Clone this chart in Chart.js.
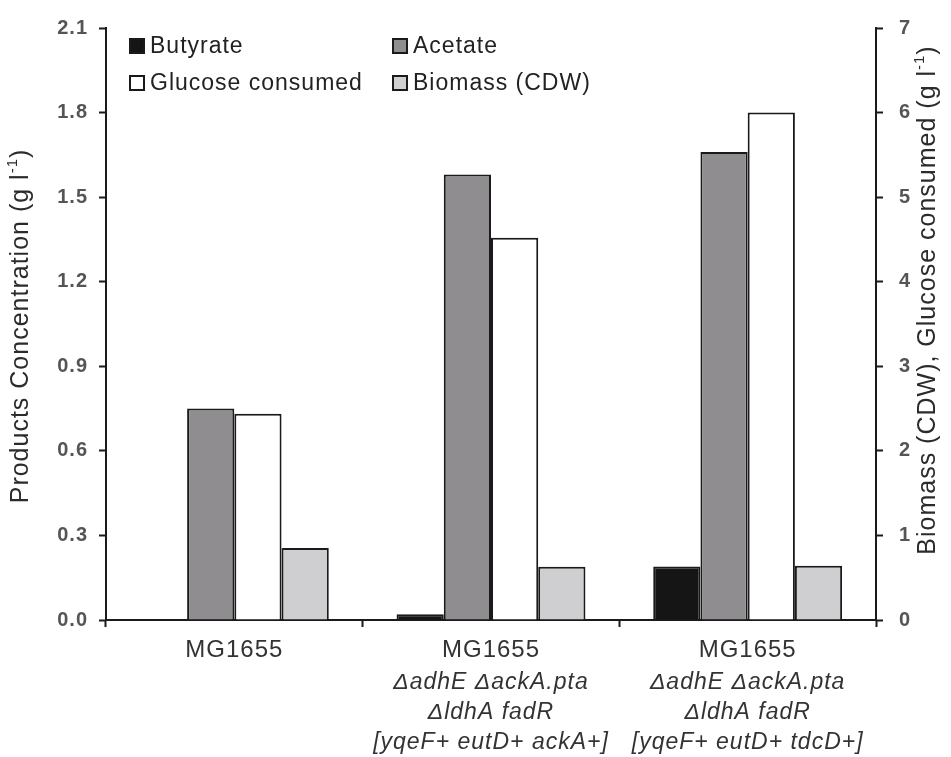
<!DOCTYPE html>
<html>
<head>
<meta charset="utf-8">
<script src="https://cdn.jsdelivr.net/npm/chart.js@4/dist/chart.umd.min.js"></script>
<style>
  html, body { margin: 0; padding: 0; background: #ffffff; }
  #c { display: block; }
</style>
</head>
<body>
<canvas id="c" width="951" height="757"></canvas>
<script>
// Strain names (first label line) and genotype lines under them
const strains = ['MG1655', 'MG1655', 'MG1655'];
const genotypes = [
  '',
  ['ΔadhE ΔackA.pta', 'ΔldhA fadR', '[yqeF+ eutD+ ackA+]'],
  ['ΔadhE ΔackA.pta', 'ΔldhA fadR', '[yqeF+ eutD+ tdcD+]']
];

// Products (g/l, left axis)
const butyrate = [0, 0.02, 0.19];
const acetate = [0.75, 1.58, 1.66];
// Biomass and glucose consumed (g/l, right axis)
const glucoseConsumed = [2.44, 4.52, 6.0];
const biomass = [0.85, 0.63, 0.64];

// Axis tick values
const productTicks = [0, 0.3, 0.6, 0.9, 1.2, 1.5, 1.8, 2.1];
const biomassTicks = [0, 1, 2, 3, 4, 5, 6, 7];

const FAMILY = '"Liberation Sans", Arial, Helvetica, sans-serif';
const INK = '#1a1a1a';

function spacing(chart) { chart.ctx.letterSpacing = '1px'; }

// Draws a rotated (bottom-to-top) axis title with a superscript "-1"
function drawAxisTitle(ctx, cx, cy, main, sup, tail) {
  const big = '25px ' + FAMILY;
  const small = '15px ' + FAMILY;
  ctx.save();
  ctx.letterSpacing = '1px';
  ctx.fillStyle = '#2b2b2b';
  ctx.textBaseline = 'middle';
  ctx.textAlign = 'left';
  ctx.font = big;
  const w1 = ctx.measureText(main).width;
  const w3 = ctx.measureText(tail).width;
  ctx.font = small;
  const w2 = ctx.measureText(sup).width;
  const total = w1 + w2 + w3;
  ctx.translate(cx, cy);
  ctx.rotate(-Math.PI / 2);
  let x = -total / 2;
  ctx.font = big;
  ctx.fillText(main, x, 0);
  x += w1;
  ctx.font = small;
  ctx.fillText(sup, x, -8);
  x += w2;
  ctx.font = big;
  ctx.fillText(tail, x, 0);
  ctx.restore();
}

const decorations = {
  id: 'decorations',
  beforeLayout: spacing,
  beforeDraw: spacing,
  afterDraw(chart) {
    const ctx = chart.ctx;
    const area = chart.chartArea;

    // Legend in two columns inside the plot area
    const cols = [24, 287];
    const rows = [18, 55];
    const order = [[0, 0, 0], [1, 1, 0], [2, 0, 1], [3, 1, 1]];
    ctx.save();
    ctx.letterSpacing = '1px';
    ctx.font = '23px ' + FAMILY;
    ctx.textBaseline = 'middle';
    ctx.textAlign = 'left';
    order.forEach(([di, c, r]) => {
      const ds = chart.data.datasets[di];
      const bx = area.left + cols[c];
      const by = area.top + rows[r];
      ctx.fillStyle = ds.backgroundColor;
      ctx.fillRect(bx, by - 7, 14, 14);
      ctx.lineWidth = 2;
      ctx.strokeStyle = INK;
      ctx.strokeRect(bx, by - 7, 14, 14);
      ctx.fillStyle = '#222222';
      ctx.fillText(ds.label, bx + 20, by + 1);
    });
    ctx.restore();

    // Axis titles
    drawAxisTitle(ctx, 21, 326, 'Products Concentration (g l', '-1', ')');
    drawAxisTitle(ctx, 928, 300, 'Biomass (CDW), Glucose consumed (g l', '-1', ')');
  }
};

const axisGrid = {
  drawOnChartArea: false,
  drawTicks: true,
  tickLength: 7,
  tickWidth: 2,
  tickColor: INK
};

new Chart(document.getElementById('c'), {
  type: 'bar',
  data: {
    labels: strains,
    datasets: [
      { label: 'Butyrate', data: butyrate, yAxisID: 'y', xAxisID: 'x',
        backgroundColor: '#151515', borderColor: INK, borderWidth: 2 },
      { label: 'Acetate', data: acetate, yAxisID: 'y', xAxisID: 'x',
        backgroundColor: '#8f8d90', borderColor: INK, borderWidth: 2 },
      { label: 'Glucose consumed', data: glucoseConsumed, yAxisID: 'y1', xAxisID: 'x',
        backgroundColor: '#ffffff', borderColor: INK, borderWidth: 2 },
      { label: 'Biomass (CDW)', data: biomass, yAxisID: 'y1', xAxisID: 'x',
        backgroundColor: '#cfcfd2', borderColor: INK, borderWidth: 2 }
    ]
  },
  options: {
    responsive: false,
    animation: false,
    devicePixelRatio: 1,
    layout: { padding: { top: 27, left: 0, right: 0, bottom: 0 } },
    datasets: { bar: { categoryPercentage: 0.736, barPercentage: 1.0 } },
    plugins: { legend: { display: false }, tooltip: { enabled: false } },
    scales: {
      x: {
        type: 'category',
        position: 'bottom',
        weight: 0,
        offset: true,
        grid: Object.assign({ offset: true }, axisGrid),
        border: { display: true, color: INK, width: 2 },
        ticks: { font: { family: FAMILY, size: 24 }, color: '#333333', padding: 9,
                 maxRotation: 0, autoSkip: false },
        afterFit(s) { s.height = 46; }
      },
      x2: {
        type: 'category',
        labels: genotypes,
        position: 'bottom',
        weight: 1,
        offset: true,
        grid: { display: false, drawTicks: false },
        border: { display: false },
        ticks: { font: { family: FAMILY, size: 23, style: 'italic', lineHeight: '30px' },
                 color: '#333333', padding: 2, maxRotation: 0, autoSkip: false },
        afterFit(s) { s.height = 91; }
      },
      y: {
        position: 'left',
        min: 0,
        max: 2.1,
        afterBuildTicks(s) { s.ticks = productTicks.map(v => ({ value: v })); },
        grid: axisGrid,
        border: { display: true, color: INK, width: 2 },
        ticks: { font: { family: FAMILY, size: 20, weight: 'bold' }, color: '#555555', padding: 11,
                 callback: v => Number(v).toFixed(1) },
        afterFit(s) { s.width = 106; }
      },
      y1: {
        position: 'right',
        min: 0,
        max: 7,
        afterBuildTicks(s) { s.ticks = biomassTicks.map(v => ({ value: v })); },
        grid: axisGrid,
        border: { display: true, color: INK, width: 2 },
        ticks: { font: { family: FAMILY, size: 20, weight: 'bold' }, color: '#555555', padding: 16,
                 callback: v => String(v) },
        afterFit(s) { s.width = 75; }
      }
    }
  },
  plugins: [decorations]
});
</script>
</body>
</html>
